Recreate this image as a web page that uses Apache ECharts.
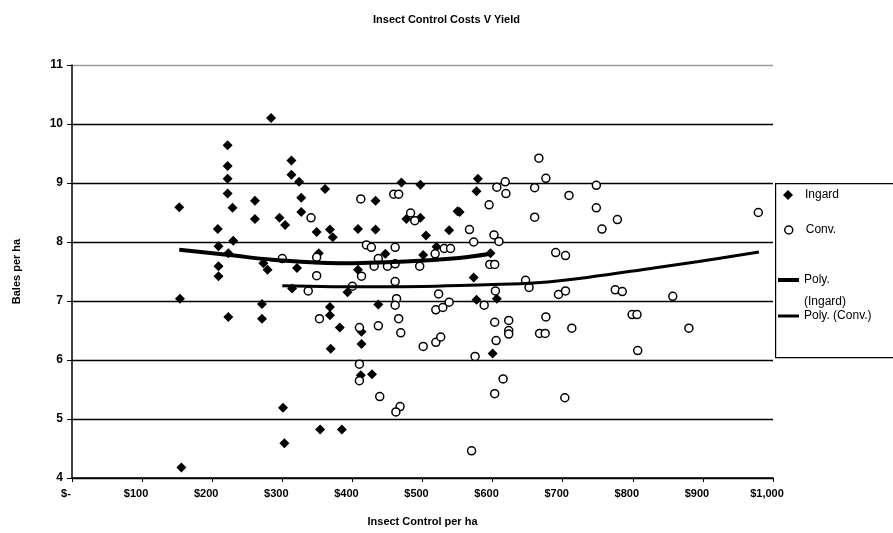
<!DOCTYPE html>
<html>
<head>
<meta charset="utf-8">
<script src="https://cdn.jsdelivr.net/npm/echarts@6/dist/echarts.min.js"></script>
<style>
html,body{margin:0;padding:0;background:#fff;}
#chart{width:893px;height:533px;}
</style>
</head>
<body>
<div id="chart"></div>
<script>
// ---- data ----
const titleText = 'Insect Control Costs V Yield';
const xAxisTitle = 'Insect Control per ha';
const yAxisTitle = 'Bales per ha';
const xTickLabels = ['$-','$100','$200','$300','$400','$500','$600','$700','$800','$900','$1,000'];
const yTickLabels = ['4','5','6','7','8','9','10','11'];

const ingardX = [284,222,222,222,222,229,153,208,209,230,223,209,209,261,261,296,304,313,313,324,327,327,361,349,368,372,433,408,433,470,497,497,477,505,538,550,352,273,279,321,408,447,501,520,
  579,577,553,597,573,
  154,223,271,271,314,368,368,382,369,413,413,393,437,412,428,301,303,354,385,156,
  577,606,600];
const ingardY = [10.10,9.64,9.29,9.07,8.82,8.58,8.59,8.22,7.93,8.02,7.81,7.59,7.42,8.70,8.39,8.41,8.29,9.38,9.14,9.02,8.75,8.51,8.90,8.17,8.21,8.08,8.70,8.22,8.21,9.01,8.97,8.41,8.39,8.11,8.20,8.52,7.81,7.64,7.53,7.56,7.53,7.80,7.78,7.92,
  9.07,8.86,8.51,7.81,7.40,
  7.04,6.73,6.95,6.70,7.21,6.90,6.76,6.55,6.19,6.48,6.27,7.15,6.94,5.74,5.76,5.19,4.59,4.82,4.82,4.18,
  7.02,7.04,6.11];

const convX = [412,341,459,466,483,489,420,427,461,300,349,349,413,437,431,450,461,461,496,518,531,540,400,
  666,676,618,606,619,660,748,709,595,748,660,778,756,979,567,573,602,609,690,704,596,603,647,
  337,353,410,437,463,461,466,469,501,519,526,519,529,538,523,410,410,439,468,462,
  604,652,588,694,704,775,785,857,603,623,623,623,605,676,667,675,713,799,806,880,807,575,615,603,703,570];
const convY = [8.73,8.41,8.81,8.81,8.49,8.36,7.95,7.91,7.91,7.72,7.74,7.43,7.42,7.72,7.59,7.59,7.63,7.33,7.59,7.80,7.89,7.89,7.25,
  9.42,9.08,9.02,8.93,8.82,8.92,8.96,8.79,8.63,8.58,8.42,8.38,8.22,8.50,8.21,8.00,8.12,8.01,7.82,7.77,7.62,7.62,7.35,
  7.17,6.70,6.55,6.58,7.04,6.93,6.70,6.46,6.23,6.30,6.39,6.85,6.89,6.98,7.12,5.93,5.65,5.38,5.21,5.12,
  7.17,7.23,6.93,7.11,7.17,7.19,7.16,7.08,6.64,6.67,6.50,6.44,6.33,6.73,6.45,6.45,6.54,6.77,6.77,6.54,6.16,6.06,5.68,5.43,5.36,4.46];

// trendline positions
const polyIngardX = [153,224,286,381,476,552,597];
const polyIngardY = [7.87,7.78,7.70,7.64,7.67,7.73,7.80];
const polyConvX = [300,430,600,663,735,830,894,980];
const polyConvY = [7.26,7.24,7.28,7.31,7.40,7.56,7.67,7.83];

const seriesNames = ['Ingard','Conv.','Poly. (Ingard)','Poly. (Conv.)'];

const zip = (a,b) => a.map((v,i) => [v, b[i]]);

const chart = echarts.init(document.getElementById('chart'), null, {renderer:'canvas'});
const FONT = 'Liberation Sans, Arial, sans-serif';

const legendBase = {
  orient:'vertical', padding:0, itemGap:0, selectedMode:true
};
const legTxt = (extra) => Object.assign({fontFamily:FONT, fontSize:12, color:'#000'}, extra || {});

chart.setOption({
  animation:false,
  backgroundColor:'#fff',
  title:{
    text:titleText, left:'center', top:9,
    textStyle:{fontFamily:FONT, fontSize:11, fontWeight:'bold', color:'#000'}
  },
  grid:{left:72, right:120, top:65, bottom:55, containLabel:false},
  xAxis:{
    type:'value', min:0, max:1000, interval:100,
    name:xAxisTitle, nameLocation:'middle', nameGap:38,
    nameTextStyle:{fontFamily:FONT, fontSize:11, fontWeight:'bold', color:'#000'},
    axisLine:{show:true, onZero:false, lineStyle:{color:'#000', width:1.5}},
    axisTick:{show:true, length:4, lineStyle:{color:'#000', width:1}},
    axisLabel:{fontFamily:FONT, fontSize:11, fontWeight:'bold', color:'#000', margin:10,
      padding:[0,12,0,0],
      formatter:(v) => xTickLabels[Math.round(v/100)]},
    splitLine:{show:false}
  },
  yAxis:{
    type:'value', min:4, max:11, interval:1,
    name:yAxisTitle, nameLocation:'middle', nameGap:50, nameRotate:90,
    nameTextStyle:{fontFamily:FONT, fontSize:11, fontWeight:'bold', color:'#000'},
    axisLine:{show:true, onZero:false, lineStyle:{color:'#000', width:1.5}},
    axisTick:{show:true, length:5, lineStyle:{color:'#000', width:1}},
    axisLabel:{fontFamily:FONT, fontSize:12, fontWeight:'bold', color:'#000', margin:9,
      formatter:(v) => yTickLabels[Math.round(v-4)]},
    splitLine:{show:true, lineStyle:{color:['#000','#000','#000','#000','#000','#000','#000','#9a9a9a'], width:1.4}}
  },
  legend:[
    Object.assign({}, legendBase, {left:783, top:189, itemWidth:10, itemHeight:10,
      data:[{name:'Ingard', icon:'diamond', itemStyle:{color:'#000', opacity:1}}],
      textStyle:legTxt({padding:[0,0,0,7]})}),
    Object.assign({}, legendBase, {left:784, top:224, itemWidth:8, itemHeight:8,
      data:[{name:'Conv.', icon:'circle', itemStyle:{color:'#fff', borderColor:'#000', borderWidth:1.5, opacity:1}}],
      textStyle:legTxt({padding:[0,0,0,8]})}),
    Object.assign({}, legendBase, {left:778, top:247, itemWidth:21, itemHeight:4,
      data:[{name:'Poly. (Ingard)', icon:'rect', itemStyle:{color:'#000', borderWidth:0}}],
      formatter:() => '\nPoly.\n(Ingard)',
      textStyle:legTxt({lineHeight:22})}),
    Object.assign({}, legendBase, {left:778, top:310, itemWidth:21, itemHeight:3,
      data:[{name:'Poly. (Conv.)', icon:'rect', itemStyle:{color:'#000', borderWidth:0}}],
      textStyle:legTxt()})
  ],
  graphic:[{
    type:'rect', left:775, top:183, z:-1, silent:true,
    shape:{x:0, y:0, width:130, height:174},
    style:{fill:'#fff', stroke:'#000', lineWidth:1.2}
  }],
  series:[
    {
      name:seriesNames[0], type:'scatter', data:zip(ingardX, ingardY),
      symbol:'diamond', symbolSize:[10,10], z:2,
      itemStyle:{color:'#000', opacity:1}
    },
    {
      name:seriesNames[1], type:'scatter', data:zip(convX, convY),
      symbol:'circle', symbolSize:8, z:3,
      itemStyle:{color:'#fff', borderColor:'#000', borderWidth:1.5, opacity:1}
    },
    {
      name:seriesNames[2], type:'line', data:zip(polyIngardX, polyIngardY),
      smooth:0.4, symbol:'none', z:4,
      lineStyle:{color:'#000', width:4}, itemStyle:{color:'#000'}
    },
    {
      name:seriesNames[3], type:'line', data:zip(polyConvX, polyConvY),
      smooth:0.4, symbol:'none', z:4,
      lineStyle:{color:'#000', width:3}, itemStyle:{color:'#000'}
    }
  ]
});
</script>
</body>
</html>
